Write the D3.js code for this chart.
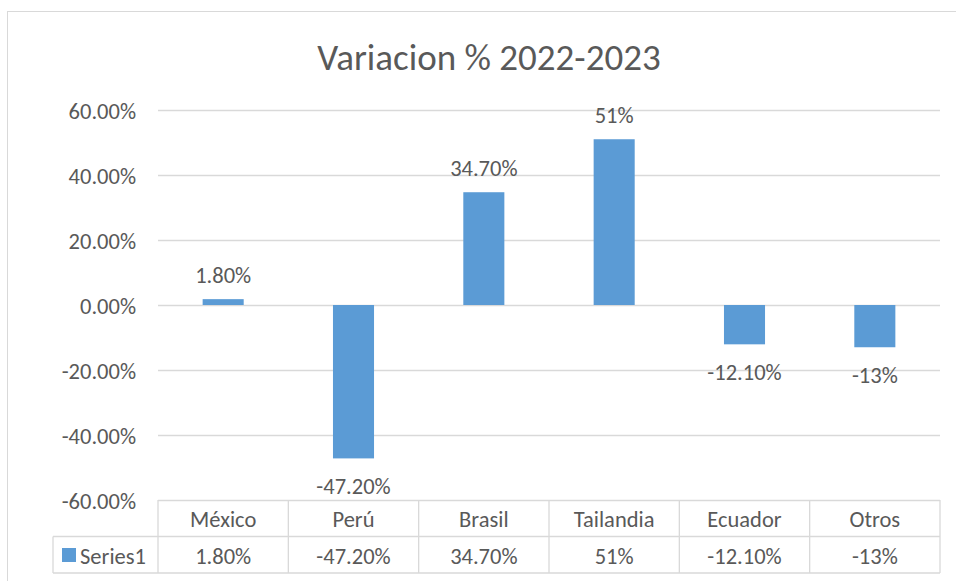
<!DOCTYPE html>
<html>
<head>
<meta charset="utf-8">
<script src="https://cdn.jsdelivr.net/npm/d3@7"></script>
<style>
  body { margin: 0; background: #fff; }
  text { font-family: Carlito, Lato, "Noto Sans", sans-serif; fill: #595959; }
</style>
</head>
<body>
<div class="chart"></div>
<script>
// values
const categories = ["México", "Perú", "Brasil", "Tailandia", "Ecuador", "Otros"];
const values = [0.018, -0.472, 0.347, 0.51, -0.121, -0.13];
const valueLabels = ["1.80%", "-47.20%", "34.70%", "51%", "-12.10%", "-13%"];
const yTicks = [-0.6, -0.4, -0.2, 0, 0.2, 0.4, 0.6];
const seriesName = "Series1";

const width = 956, height = 581;
const plot = { left: 158, right: 940, top: 110, bottom: 500 };
const rowH = 36.5;
const fs = 22.5;

const svg = d3.select(".chart")
  .append("svg")
  .attr("width", width)
  .attr("height", height);

// chart frame
svg.append("rect")
  .attr("x", 7.5).attr("y", 11.5)
  .attr("width", 970).attr("height", 600)
  .attr("fill", "none")
  .attr("stroke", "#d9d9d9");

svg.append("text")
  .attr("x", 489)
  .attr("y", 70)
  .attr("text-anchor", "middle")
  .attr("font-size", 37)
  .text("Variacion % 2022-2023");

const x = d3.scaleBand()
  .domain(categories)
  .range([plot.left, plot.right]);

const y = d3.scaleLinear()
  .domain([-0.6, 0.6])
  .range([plot.bottom, plot.top]);

// gridlines
svg.append("g")
  .selectAll("line")
  .data(yTicks)
  .join("line")
  .attr("x1", plot.left).attr("x2", plot.right)
  .attr("y1", d => Math.round(y(d)) + 0.5)
  .attr("y2", d => Math.round(y(d)) + 0.5)
  .attr("stroke", "#d9d9d9")
  .attr("stroke-width", 1.3);

// y tick labels (plain hyphen like excel)
const pct = d3.format(".2%");
svg.append("g")
  .selectAll("text")
  .data(yTicks)
  .join("text")
  .attr("x", 136)
  .attr("y", d => y(d) + 1)
  .attr("dy", "0.35em")
  .attr("text-anchor", "end")
  .attr("font-size", fs)
  .text(d => pct(d).replace("\u2212", "-"));

const barW = x.bandwidth() * 0.315;

svg.append("g")
  .selectAll("rect")
  .data(values)
  .join("rect")
  .attr("x", (d, i) => x(categories[i]) + (x.bandwidth() - barW) / 2)
  .attr("y", d => y(Math.max(0, d)))
  .attr("width", barW)
  .attr("height", d => Math.abs(y(d) - y(0)))
  .attr("fill", "#5b9bd5");

// data labels
svg.append("g")
  .selectAll("text")
  .data(values)
  .join("text")
  .attr("x", (d, i) => x(categories[i]) + x.bandwidth() / 2)
  .attr("y", d => d >= 0 ? y(d) - 24 : y(d) + 28)
  .attr("dy", "0.35em")
  .attr("text-anchor", "middle")
  .attr("font-size", fs)
  .text((d, i) => valueLabels[i]);

// data table
const table = svg.append("g").attr("stroke", "#d9d9d9").attr("stroke-width", 1.3);
const t0 = plot.bottom, t1 = t0 + rowH, t2 = t1 + rowH;
const legendLeft = 53;

table.append("line").attr("x1", legendLeft).attr("x2", plot.right).attr("y1", t1).attr("y2", t1);
table.append("line").attr("x1", legendLeft).attr("x2", plot.right).attr("y1", t2).attr("y2", t2);
table.append("line").attr("x1", legendLeft).attr("x2", legendLeft).attr("y1", t1).attr("y2", t2);
table.selectAll(".col")
  .data(categories.concat([null]))
  .join("line")
  .attr("class", "col")
  .attr("x1", (d, i) => plot.left + i * x.bandwidth())
  .attr("x2", (d, i) => plot.left + i * x.bandwidth())
  .attr("y1", t0).attr("y2", t2);

svg.append("g")
  .selectAll("text")
  .data(categories)
  .join("text")
  .attr("x", d => x(d) + x.bandwidth() / 2)
  .attr("y", (t0 + t1) / 2 + 1)
  .attr("dy", "0.35em")
  .attr("text-anchor", "middle")
  .attr("font-size", fs)
  .text(d => d);

svg.append("g")
  .selectAll("text")
  .data(valueLabels)
  .join("text")
  .attr("x", (d, i) => x(categories[i]) + x.bandwidth() / 2)
  .attr("y", (t1 + t2) / 2 + 1)
  .attr("dy", "0.35em")
  .attr("text-anchor", "middle")
  .attr("font-size", fs)
  .text(d => d);

// legend key
svg.append("rect")
  .attr("x", 62).attr("y", 548)
  .attr("width", 14).attr("height", 14)
  .attr("fill", "#5b9bd5");
svg.append("text")
  .attr("x", 80)
  .attr("y", (t1 + t2) / 2 + 1)
  .attr("dy", "0.35em")
  .attr("font-size", fs)
  .text(seriesName);
</script>
</body>
</html>
